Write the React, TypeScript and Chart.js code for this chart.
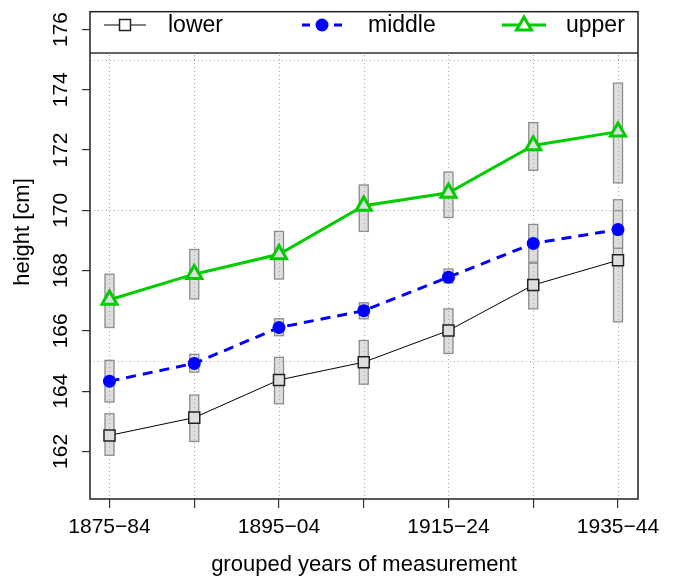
import React, { useEffect, useRef } from "react";
import { Chart, registerables } from "chart.js";

Chart.register(...registerables);

const categories = ["1875−84", "1885−94", "1895−04", "1905−14", "1915−24", "1925−34", "1935−44"];
const xTickLabels = ["1875−84", "", "1895−04", "", "1915−24", "", "1935−44"];
const yTicks = [162, 164, 166, 168, 170, 172, 174, 176];
const gridY = [165, 170, 175];

const lowerMean = [162.53, 163.12, 164.37, 164.96, 166.01, 167.52, 168.34];
const lowerLo = [161.87, 162.33, 163.58, 164.23, 165.25, 166.73, 166.3];
const lowerHi = [163.25, 163.87, 165.12, 165.68, 166.73, 168.24, 170.35];

const middleMean = [164.33, 164.92, 166.11, 166.67, 167.78, 168.9, 169.36];
const middleLo = [163.64, 164.63, 165.84, 166.4, 167.59, 168.28, 168.74];
const middleHi = [165.02, 165.22, 166.4, 166.93, 168.05, 169.53, 169.99];

const upperMean = [167.03, 167.88, 168.54, 170.15, 170.58, 172.15, 172.61];
const upperLo = [166.11, 167.06, 167.72, 169.3, 169.76, 171.33, 170.91];
const upperHi = [167.88, 168.7, 169.3, 170.84, 171.27, 172.91, 174.22];

const seriesNames = ["lower", "middle", "upper"];
const FONT = '"Liberation Sans", Arial, Helvetica, sans-serif';
const GREEN = "#00cd00";
const BLUE = "#0000ff";
const BOXFILL = "#dedede";

const toPts = (arr: number[]) => arr.map((v, i) => ({ x: i, y: v }));

const decorPlugin = {
  id: "decor",
  beforeDatasetsDraw(chart: any) {
    const { ctx, chartArea } = chart;
    const xs = chart.scales.x;
    const ys = chart.scales.y;
    const legendBottom = 53;
    ctx.save();
    // error boxes
    const boxes = [
      [lowerLo, lowerHi],
      [middleLo, middleHi],
      [upperLo, upperHi],
    ];
    boxes.forEach(([lo, hi]) => {
      lo.forEach((l, i) => {
        const x = xs.getPixelForValue(i);
        const y1 = ys.getPixelForValue(hi[i]);
        const y2 = ys.getPixelForValue(l);
        ctx.fillStyle = BOXFILL;
        ctx.strokeStyle = "#8c8c8c";
        ctx.lineWidth = 1.3;
        ctx.fillRect(x - 4.5, y1, 9, y2 - y1);
        ctx.strokeRect(x - 4.5, y1, 9, y2 - y1);
      });
    });
    // dotted reference lines
    ctx.strokeStyle = "#a8a8a8";
    ctx.lineWidth = 1;
    ctx.setLineDash([1, 3]);
    categories.forEach((_, i) => {
      const x = Math.round(xs.getPixelForValue(i)) + 0.5;
      ctx.beginPath();
      ctx.moveTo(x, legendBottom + 2);
      ctx.lineTo(x, chartArea.bottom);
      ctx.stroke();
    });
    gridY.forEach((v) => {
      const y = Math.round(ys.getPixelForValue(v)) + 0.5;
      ctx.beginPath();
      ctx.moveTo(chartArea.left, y);
      ctx.lineTo(chartArea.right, y);
      ctx.stroke();
    });
    ctx.restore();
  },
  afterDraw(chart: any) {
    const { ctx, chartArea } = chart;
    const ys = chart.scales.y;
    const legendBottom = 53;
    ctx.save();
    // legend panel
    ctx.fillStyle = "#ffffff";
    ctx.fillRect(chartArea.left, chartArea.top, chartArea.right - chartArea.left, legendBottom - chartArea.top);
    ctx.strokeStyle = "#666666";
    ctx.lineWidth = 2;
    ctx.beginPath();
    ctx.moveTo(chartArea.left, legendBottom);
    ctx.lineTo(chartArea.right, legendBottom);
    ctx.stroke();

    const ly = 25;
    // lower
    ctx.strokeStyle = "#000";
    ctx.lineWidth = 1;
    ctx.beginPath();
    ctx.moveTo(104, ly);
    ctx.lineTo(146, ly);
    ctx.stroke();
    ctx.fillStyle = "#fff";
    ctx.fillRect(119.5, ly - 5.5, 11, 11);
    ctx.strokeStyle = "#222";
    ctx.lineWidth = 1.5;
    ctx.strokeRect(119.5, ly - 5.5, 11, 11);
    // middle
    ctx.strokeStyle = BLUE;
    ctx.lineWidth = 3;
    ctx.beginPath();
    ctx.moveTo(302, ly);
    ctx.lineTo(310, ly);
    ctx.moveTo(334, ly);
    ctx.lineTo(342, ly);
    ctx.stroke();
    ctx.fillStyle = BLUE;
    ctx.beginPath();
    ctx.arc(322, ly, 6.5, 0, Math.PI * 2);
    ctx.fill();
    // upper
    ctx.strokeStyle = GREEN;
    ctx.lineWidth = 3;
    ctx.beginPath();
    ctx.moveTo(502, ly);
    ctx.lineTo(546, ly);
    ctx.stroke();
    ctx.fillStyle = "#fff";
    ctx.beginPath();
    ctx.moveTo(524, ly - 8);
    ctx.lineTo(531.5, ly + 5);
    ctx.lineTo(516.5, ly + 5);
    ctx.closePath();
    ctx.fill();
    ctx.stroke();

    ctx.fillStyle = "#000";
    ctx.font = "23px " + FONT;
    ctx.textAlign = "left";
    ctx.textBaseline = "middle";
    ctx.fillText(seriesNames[0], 168, ly + 1);
    ctx.fillText(seriesNames[1], 368, ly + 1);
    ctx.fillText(seriesNames[2], 566, ly + 1);

    // outer box
    ctx.strokeStyle = "#222";
    ctx.lineWidth = 1.5;
    ctx.strokeRect(chartArea.left, chartArea.top, chartArea.right - chartArea.left, chartArea.bottom - chartArea.top);

    // y tick labels (rotated)
    ctx.font = "21px " + FONT;
    ctx.textAlign = "center";
    ctx.textBaseline = "middle";
    yTicks.forEach((v) => {
      const y = ys.getPixelForValue(v);
      ctx.save();
      ctx.translate(61, y);
      ctx.rotate(-Math.PI / 2);
      ctx.fillText(String(v), 0, 0);
      ctx.restore();
    });
    // y title
    ctx.font = "22px " + FONT;
    ctx.save();
    ctx.translate(23, 232);
    ctx.rotate(-Math.PI / 2);
    ctx.fillText("height [cm]", 0, 0);
    ctx.restore();
    // x title
    ctx.fillText("grouped years of measurement", (chartArea.left + chartArea.right) / 2, 565);
    ctx.restore();
  },
};

export default function App() {
  const ref = useRef<HTMLCanvasElement | null>(null);
  useEffect(() => {
    if (!ref.current) return;
    const chart = new Chart(ref.current, {
      type: "line",
      data: {
        datasets: [
          {
            label: seriesNames[0],
            data: toPts(lowerMean),
            borderColor: "#000",
            borderWidth: 1,
            pointStyle: "rect",
            pointRadius: 7.8,
            pointBorderWidth: 1.5,
            pointBorderColor: "#222",
            pointBackgroundColor: BOXFILL,
          },
          {
            label: seriesNames[1],
            data: toPts(middleMean),
            borderColor: BLUE,
            borderWidth: 3,
            borderDash: [10, 7],
            pointStyle: "circle",
            pointRadius: 6.5,
            pointBorderWidth: 0,
            pointBorderColor: BLUE,
            pointBackgroundColor: BLUE,
          },
          {
            label: seriesNames[2],
            data: toPts(upperMean),
            borderColor: GREEN,
            borderWidth: 3,
            pointStyle: "triangle",
            pointRadius: 8.7,
            pointBorderWidth: 3,
            pointBorderColor: GREEN,
            pointBackgroundColor: BOXFILL,
          },
        ],
      },
      options: {
        responsive: false,
        animation: false,
        devicePixelRatio: 1,
        layout: { padding: { left: 0, right: 40, top: 7, bottom: 0 } },
        plugins: { legend: { display: false }, tooltip: { enabled: false } },
        scales: {
          x: {
            type: "linear",
            min: -0.23,
            max: 6.236,
            afterBuildTicks: (s: any) => {
              s.ticks = categories.map((_, i) => ({ value: i }));
            },
            afterFit: (s: any) => {
              s.height = 80;
            },
            ticks: {
              autoSkip: false,
              maxRotation: 0,
              minRotation: 0,
              padding: 7,
              color: "#000",
              font: { family: FONT, size: 21 },
              callback: (v: any) => xTickLabels[Math.round(Number(v))] ?? "",
            },
            grid: { drawOnChartArea: false, drawTicks: true, tickLength: 9, color: "#333", lineWidth: 1.2 },
            border: { display: false },
          },
          y: {
            type: "linear",
            min: 160.42,
            max: 176.59,
            afterBuildTicks: (s: any) => {
              s.ticks = yTicks.map((v) => ({ value: v }));
            },
            afterFit: (s: any) => {
              s.width = 90;
            },
            ticks: { display: false },
            grid: { drawOnChartArea: false, drawTicks: true, tickLength: 8, color: "#333", lineWidth: 1.2 },
            border: { display: false },
          },
        },
      },
      plugins: [decorPlugin],
    });
    return () => chart.destroy();
  }, []);
  return (
    <div style={{ position: "absolute", left: 0, top: 0, width: 678, height: 579, background: "#fff" }}>
      <canvas ref={ref} width={678} height={579} style={{ width: 678, height: 579, display: "block" }} />
    </div>
  );
}
